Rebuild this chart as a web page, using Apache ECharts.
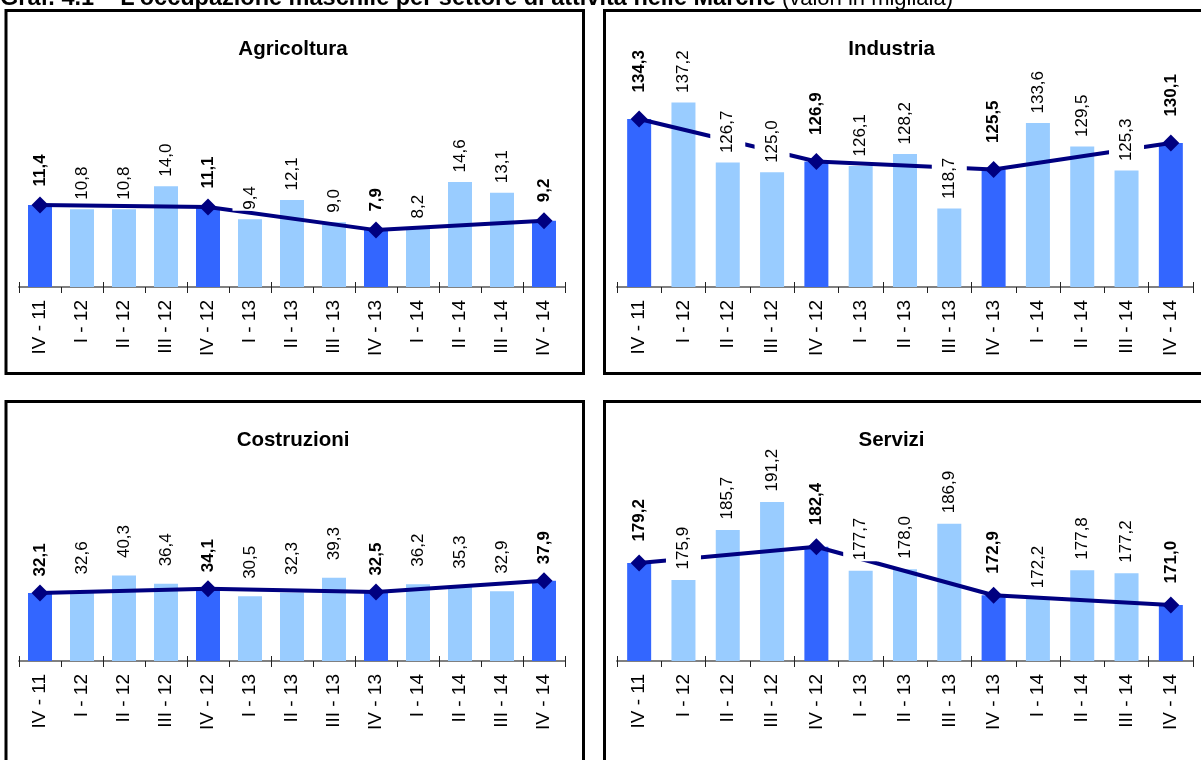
<!DOCTYPE html>
<html>
<head>
<meta charset="utf-8">
<script src="https://cdn.jsdelivr.net/npm/echarts@6/dist/echarts.min.js"></script>
<style>
  html, body { margin: 0; padding: 0; background: #fff; }
  #chart { width: 1201px; height: 760px; }
</style>
</head>
<body>
<div id="chart"></div>
<script>
  // trimestri
  const categories = ['IV - 11', 'I - 12', 'II - 12', 'III - 12', 'IV - 12', 'I - 13', 'II - 13',
    'III - 13', 'IV - 13', 'I - 14', 'II - 14', 'III - 14', 'IV - 14']

  // valori in migliaia
  const agricoltura = [11.4, 10.8, 10.8, 14.0, 11.1, 9.4, 12.1, 9.0, 7.9, 8.2, 14.6, 13.1, 9.2]
  const industria = [134.3, 137.2, 126.7, 125.0, 126.9, 126.1, 128.2, 118.7, 125.5, 133.6, 129.5, 125.3, 130.1]
  const costruzioni = [32.1, 32.6, 40.3, 36.4, 34.1, 30.5, 32.3, 39.3, 32.5, 36.2, 35.3, 32.9, 37.9]
  const servizi = [179.2, 175.9, 185.7, 191.2, 182.4, 177.7, 178.0, 186.9, 172.9, 172.2, 177.8, 177.2, 171.0]

  const titolo = 'Graf. 4.1 – L’occupazione maschile per settore di attività nelle Marche'
  const sottotitolo = ' (valori in migliaia)'

  // pannelli: box, griglia, scala asse y
  const panels = [
    { name: 'Agricoltura', values: agricoltura, box: [6, 10.5, 577.5, 363],
      grid: { left: 19, right: 636, top: 71, height: 216 }, min: 0, max: 30, lightDist: 8, boldDist: 10 },
    { name: 'Industria', values: industria, box: [604.5, 10.5, 700, 363],
      grid: { left: 617, right: 8, top: 29, height: 258 }, min: 105, max: 150, lightDist: 8, boldDist: 18 },
    { name: 'Costruzioni', values: costruzioni, box: [6, 401.5, 577.5, 500],
      grid: { left: 19, right: 636, top: 449, height: 212 }, min: 0, max: 100, lightDist: 16, boldDist: 8 },
    { name: 'Servizi', values: servizi, box: [604.5, 401.5, 700, 500],
      grid: { left: 617, right: 8, top: 457, height: 204 }, min: 160, max: 200, lightDist: 9, boldDist: 13 },
  ]

  const isIV = c => c.indexOf('IV') === 0
  const fmt = v => v.toFixed(1).replace('.', ',')
  const font = 'Liberation Sans, Arial, sans-serif'

  const grid = [], xAxis = [], yAxis = [], series = [], graphic = []

  panels.forEach((p, i) => {
    grid.push(p.grid)
    // asse principale: etichette + tacche verso il basso
    xAxis.push({
      type: 'category', gridIndex: i, position: 'bottom', data: categories,
      axisLine: { lineStyle: { color: '#808080', width: 2 } },
      axisTick: { show: true, length: 6, lineStyle: { color: '#222', width: 1 } },
      axisLabel: { rotate: 90, margin: 13, color: '#000', fontSize: 19, fontFamily: font },
      splitLine: { show: false },
    })
    // secondo asse solo per le tacche verso l'alto
    xAxis.push({
      type: 'category', gridIndex: i, position: 'bottom', data: categories,
      axisLine: { show: false },
      axisTick: { show: true, inside: true, length: 5, lineStyle: { color: '#222', width: 1 } },
      axisLabel: { show: false },
    })
    yAxis.push({
      type: 'value', gridIndex: i, min: p.min, max: p.max, show: false,
      splitLine: { show: false },
    })

    series.push({
      type: 'bar', xAxisIndex: 2 * i, yAxisIndex: i, barWidth: 24, z: 2,
      data: p.values.map((v, k) => ({
        value: v,
        itemStyle: { color: isIV(categories[k]) ? '#3366FF' : '#99CCFF' },
      })),
    })
    series.push({
      type: 'line', xAxisIndex: 2 * i, yAxisIndex: i, z: 3,
      connectNulls: true,
      symbol: 'diamond', symbolSize: 17,
      lineStyle: { color: '#000080', width: 4 },
      itemStyle: { color: '#000080' },
      label: {
        show: true, position: 'top', rotate: 90, align: 'left', verticalAlign: 'middle',
        distance: p.boldDist, color: '#000', fontSize: 17, fontWeight: 'bold', fontFamily: font,
        formatter: d => fmt(d.value),
      },
      data: p.values.map((v, k) => isIV(categories[k]) ? v : null),
    })
    // etichette dei trimestri intermedi, con fondo bianco sopra la linea
    series.push({
      type: 'scatter', xAxisIndex: 2 * i, yAxisIndex: i, z: 4,
      symbolSize: 1, itemStyle: { color: 'rgba(0,0,0,0)', opacity: 1 },
      label: {
        show: true, position: 'top', rotate: 90, align: 'left', verticalAlign: 'middle',
        distance: p.lightDist, color: '#000', opacity: 1, fontSize: 17, fontFamily: font,
        backgroundColor: '#fff', padding: [9, 1, 9, 1],
        formatter: d => fmt(d.value[1]),
      },
      data: p.values.map((v, k) => isIV(categories[k]) ? null : [k, v]),
    })

    graphic.push({
      type: 'rect', z: 0,
      shape: { x: p.box[0], y: p.box[1], width: p.box[2], height: p.box[3] },
      style: { fill: 'none', stroke: '#000', lineWidth: 3 },
    })
    graphic.push({
      type: 'text', z: 10,
      x: p.box[0] + 287, y: p.box[1] + 39,
      style: {
        text: p.name, fill: '#000', font: 'bold 20.5px ' + font,
        align: 'center', verticalAlign: 'middle',
      },
    })
  })

  graphic.push({
    type: 'text', z: 10, x: 0, y: -1,
    style: {
      text: '{b|' + titolo + '}{n|' + sottotitolo + '}',
      verticalAlign: 'middle',
      rich: {
        b: { font: 'bold 23.5px ' + font, fill: '#000' },
        n: { font: '22px ' + font, fill: '#000' },
      },
    },
  })

  const myChart = echarts.init(document.getElementById('chart'))
  myChart.setOption({
    animation: false,
    grid, xAxis, yAxis, series, graphic,
  })
</script>
</body>
</html>
